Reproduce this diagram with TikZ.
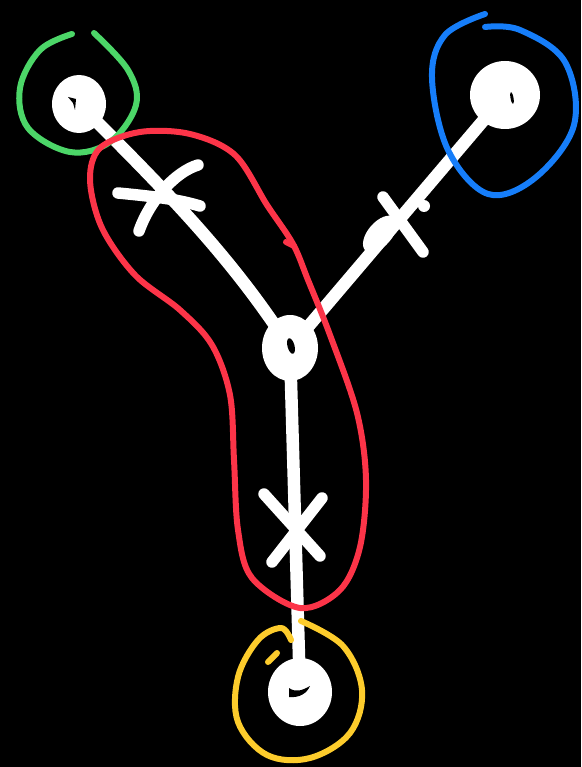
\documentclass[tikz,border=0pt]{standalone}
\usetikzlibrary{shapes.geometric}
\definecolor{sgreen}{RGB}{76,214,104}
\definecolor{sblue}{RGB}{22,126,250}
\definecolor{sred}{RGB}{252,52,72}
\definecolor{syellow}{RGB}{253,204,44}
\begin{document}
\begin{tikzpicture}[x=1pt,y=-1pt,
  blob/.style={ellipse,fill=white,draw=none,inner sep=0pt},
  wline/.style={white,line width=12.5pt,line cap=round,line join=round},
  xmark/.style={white,line width=11.5pt,line cap=round},
  ring/.style={line width=6pt,line cap=round,line join=round}]
\fill[black] (0,0) rectangle (581,767);
\useasboundingbox (0,0) rectangle (581,767);
% connectors
\coordinate (a) at (79,104);
\coordinate (b) at (505,95);
\coordinate (c) at (290,348);
\coordinate (d) at (300,692);
\draw[wline] (a) .. controls (165,190) and (230,255) .. (c);
\draw[wline] (c) -- (b);
\draw[wline] (c) -- (d);
% thickening on C-B
\fill[white,rotate around={49:(380,234)}] (380,234) ellipse (22pt and 12pt);
\fill[white] (424,206) circle (6pt);
% nodes
\node[blob,minimum width=54pt,minimum height=58pt] (A) at (a) {};
\node[blob,minimum width=70pt,minimum height=68pt] (B) at (b) {};
\node[blob,minimum width=56pt,minimum height=66pt] (C) at (c) {};
\node[blob,minimum width=64pt,minimum height=68pt] (D) at (d) {};
% holes
\fill[black] (68,97) -- (76,99) -- (75,110) -- (73,103) -- cycle;
\fill[black,rotate around={15:(291,346)}] (291,346) ellipse (3.5pt and 8pt);
\fill[black] (289,688) .. controls (296,693) and (303,690) .. (310,686) .. controls (307,693) and (300,698) .. (289,697) -- cycle;
\fill[black,rotate around={10:(512,98)}] (512,98) ellipse (1.5pt and 6pt);
% crosses
\draw[xmark] (118,193) .. controls (160,197) and (180,200) .. (200,206);
\draw[xmark] (139,231) .. controls (150,200) and (175,172) .. (198,165);
\draw[xmark] (383,197) -- (423,252);
\draw[xmark] (264,494) -- (320,556);
\draw[xmark] (272,562) -- (322,498);
% rings
\draw[ring,sgreen] plot[smooth,tension=0.6] coordinates {(72,34) (40,50) (20,88) (28,128) (70,152) (110,142) (136,105) (128,70) (94,33)};
\draw[ring,sblue] plot[smooth,tension=0.6] coordinates {(485,14) (445,35) (432,78) (448,150) (488,194) (535,178) (574,125) (565,62) (520,30) (485,27)};
\draw[ring,sred] plot[smooth cycle,tension=0.55] coordinates {(293,244) (267,205) (235,155) (190,134) (140,132) (100,148) (90,180) (102,228) (135,275) (180,310) (212,345) (230,395) (234,460) (238,530) (252,578) (300,608) (340,590) (360,547) (366,480) (357,413) (330,335) (308,280)};
\draw[ring,sred] (286,242) -- (294,246);
\draw[ring,syellow] plot[smooth,tension=0.6] coordinates {(301,621) (343,646) (362,690) (350,733) (310,758) (267,755) (238,722) (238,677) (258,640) (281,628) (291,640)};
\draw[ring,syellow] (268,662) -- (277,653);
\end{tikzpicture}
\end{document}
